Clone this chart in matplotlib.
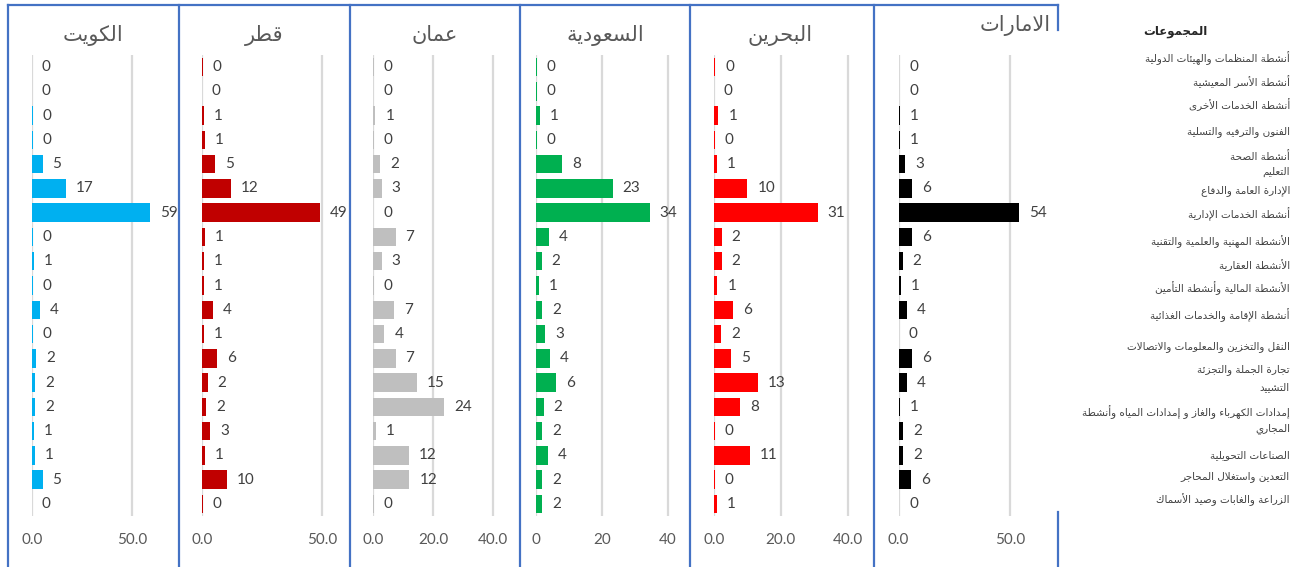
import matplotlib
matplotlib.use("Agg")
import matplotlib.pyplot as plt
from matplotlib.lines import Line2D

# ---- data (top row first) ----
countries = ["الكويت", "قطر", "عمان", "السعودية", "البحرين", "الامارات"]
colors = ["#00B0F0", "#C00000", "#BFBFBF", "#00B050", "#FF0000", "#000000"]

kuwait = [0, 0, 0.3, 0.3, 5.3, 16.8, 59, 0.3, 1, 0.3, 3.8, 0.3, 2, 1.6, 1.6, 1, 1.4, 5.3, 0]
qatar = [0.3, 0, 0.9, 1.3, 5.3, 12.2, 49, 1.2, 0.9, 0.9, 4.4, 0.9, 6.3, 2.3, 1.7, 3.3, 1.3, 10.3, 0.3]
oman = [0.1, 0, 0.7, 0.1, 2.2, 2.8, 0, 7.4, 2.8, 0.1, 6.8, 3.7, 7.4, 14.6, 23.6, 0.9, 11.8, 12, 0.1]
saudi = [0.3, 0.2, 1.2, 0.2, 7.9, 23.2, 34.4, 4, 1.7, 0.8, 1.8, 2.7, 4.2, 6.2, 2.3, 1.8, 3.7, 1.8, 1.8]
bahrain = [0.3, 0, 1.3, 0.2, 0.8, 10, 31, 2.3, 2.3, 1, 5.7, 2.2, 5, 13.2, 7.8, 0.2, 10.8, 0.2, 0.8]
uae = [0.3, 0.3, 0.7, 0.6, 3, 6, 54, 6, 1.8, 1, 3.6, 0.2, 6, 3.6, 0.7, 2, 2, 5.6, 0.3]
series = [kuwait, qatar, oman, saudi, bahrain, uae]

ticks = [[0, 50], [0, 50], [0, 20, 40], [0, 20, 40], [0, 20, 40], [0, 50]]
tick_labels = [["0.0", "50.0"], ["0.0", "50.0"], ["0.0", "20.0", "40.0"],
               ["0", "20", "40"], ["0.0", "20.0", "40.0"], ["0.0", "50.0"]]

header = "المجموعات"
categories = [
    "أنشطة المنظمات والهيئات الدولية",
    "أنشطة الأسر المعيشية",
    "أنشطة الخدمات الأخرى",
    "الفنون والترفيه والتسلية",
    "أنشطة الصحة",
    "التعليم",
    "الإدارة العامة والدفاع",
    "أنشطة الخدمات الإدارية",
    "الأنشطة المهنية والعلمية والتقنية",
    "الأنشطة العقارية",
    "الأنشطة المالية وأنشطة التأمين",
    "أنشطة الإقامة والخدمات الغذائية",
    "النقل والتخزين والمعلومات والاتصالات",
    "تجارة الجملة والتجزئة",
    "التشييد",
    "إمدادات الكهرباء والغاز و إمدادات المياه وأنشطة\nالمجاري",
    "الصناعات التحويلية",
    "التعدين واستغلال المحاجر",
    "الزراعة والغابات وصيد الأسماك",
]

# ---- minimal arabic shaping (matplotlib has no text shaping) ----
FOUR = {'ئ': 0xFE89, 'ب': 0xFE8F, 'ت': 0xFE95, 'ث': 0xFE99, 'ج': 0xFE9D, 'ح': 0xFEA1,
        'خ': 0xFEA5, 'س': 0xFEB1, 'ش': 0xFEB5, 'ص': 0xFEB9, 'ض': 0xFEBD, 'ط': 0xFEC1,
        'ظ': 0xFEC5, 'ع': 0xFEC9, 'غ': 0xFECD, 'ف': 0xFED1, 'ق': 0xFED5, 'ك': 0xFED9,
        'ل': 0xFEDD, 'م': 0xFEE1, 'ن': 0xFEE5, 'ه': 0xFEE9, 'ي': 0xFEF1}
TWO = {'آ': 0xFE81, 'أ': 0xFE83, 'ؤ': 0xFE85, 'إ': 0xFE87, 'ا': 0xFE8D, 'ة': 0xFE93,
       'د': 0xFEA9, 'ذ': 0xFEAB, 'ر': 0xFEAD, 'ز': 0xFEAF, 'و': 0xFEED, 'ى': 0xFEEF}
LAMALEF = {'آ': 0xFEF5, 'أ': 0xFEF7, 'إ': 0xFEF9, 'ا': 0xFEFB}


def shape_line(s):
    chars = []
    i = 0
    while i < len(s):
        if s[i] == 'ل' and i + 1 < len(s) and s[i + 1] in LAMALEF:
            chars.append(('LA', s[i + 1]))
            i += 2
        else:
            chars.append(s[i])
            i += 1

    def joins_next(c):
        return isinstance(c, str) and c in FOUR

    def joins_prev(c):
        return isinstance(c, tuple) or c in FOUR or c in TWO

    out = []
    for k, c in enumerate(chars):
        prev = chars[k - 1] if k > 0 else None
        nxt = chars[k + 1] if k + 1 < len(chars) else None
        p = prev is not None and joins_next(prev) and joins_prev(c)
        if isinstance(c, tuple):
            out.append(chr(LAMALEF[c[1]] + (1 if p else 0)))
        elif c in FOUR:
            n = nxt is not None and joins_prev(nxt)
            out.append(chr(FOUR[c] + {(0, 0): 0, (1, 0): 1, (0, 1): 2, (1, 1): 3}[(int(p), int(n))]))
        elif c in TWO:
            out.append(chr(TWO[c] + (1 if p else 0)))
        elif c == 'ء':
            out.append('\uFE80')
        else:
            out.append(c)
    return ''.join(reversed(out))


def ar(s):
    return "\n".join(shape_line(l) for l in s.split("\n"))


# ---- layout (pixels) ----
W, H = 1300, 567
fig = plt.figure(figsize=(W / 100, H / 100), dpi=100)

zero_px = [32, 202, 373.3, 536, 714, 898.5]
px_per_unit = [2.0, 2.4, 3.0, 3.3, 3.34, 2.23]
xmax = [70, 60, 45, 45, 45, 70]
top_px, bot_px = 55, 516
title_pos = [(93, 35), (264, 35), (435, 35), (605, 35), (780, 35), (1015, 25)]

ar_font = "DejaVu Sans"
num_font = "Lato"
n = len(categories)

for k in range(6):
    left = zero_px[k] / W
    width = xmax[k] * px_per_unit[k] / W
    ax = fig.add_axes([left, 1 - bot_px / H, width, (bot_px - top_px) / H])
    vals = series[k]
    ax.barh(range(n), vals, height=0.76, color=colors[k], zorder=3)
    for i, v in enumerate(vals):
        ax.annotate(f"{v:.0f}", (v, i), xytext=(10, 0), textcoords="offset pixels",
                    ha="left", va="center", fontsize=11, color="#404040",
                    family=num_font, annotation_clip=False)
    ax.set_xlim(0, xmax[k])
    ax.set_ylim(n - 0.5, -0.5)
    ax.set_xticks(ticks[k])
    ax.set_xticklabels(tick_labels[k], family=num_font, fontsize=11, color="#595959")
    ax.tick_params(axis="x", length=0, pad=12)
    ax.set_yticks([])
    ax.grid(axis="x", color="#D9D9D9", lw=1.6, zorder=0)
    ax.set_axisbelow(True)
    for s in ax.spines.values():
        s.set_visible(False)
    ax.patch.set_alpha(0)
    tx, ty = title_pos[k]
    fig.text(tx / W, 1 - ty / H, ar(countries[k]), ha="center", va="center",
             fontsize=15, color="#595959", family=ar_font)

# panel frames
blue = "#4472C4"
for x in [8, 179, 349.5, 520, 690, 874]:
    fig.add_artist(Line2D([x / W, x / W], [0, 1 - 5 / H], color=blue, lw=1.6))
fig.add_artist(Line2D([8 / W, 1058 / W], [1 - 5 / H, 1 - 5 / H], color=blue, lw=1.6))
fig.add_artist(Line2D([1058 / W, 1058 / W], [1 - 5 / H, 1 - 30 / H], color=blue, lw=1.6))
fig.add_artist(Line2D([1058 / W, 1058 / W], [1 - 512 / H, 0], color=blue, lw=1.6))

# category list on the right
label_y = [58, 82, 105, 132, 157, 172, 191, 214, 242, 265, 288, 315, 347, 370, 387, 420, 455, 477, 500]
fig.text(1175 / W, 1 - 31 / H, ar(header), ha="center", va="center", fontsize=8.5,
         fontweight="bold", color="#262626", family=ar_font)
for lab, y in zip(categories, label_y):
    fig.text(1290 / W, 1 - y / H, ar(lab), ha="right", va="center", fontsize=7.5,
             color="#404040", family=ar_font, linespacing=1.5)

fig.savefig("out.png", dpi=100)
